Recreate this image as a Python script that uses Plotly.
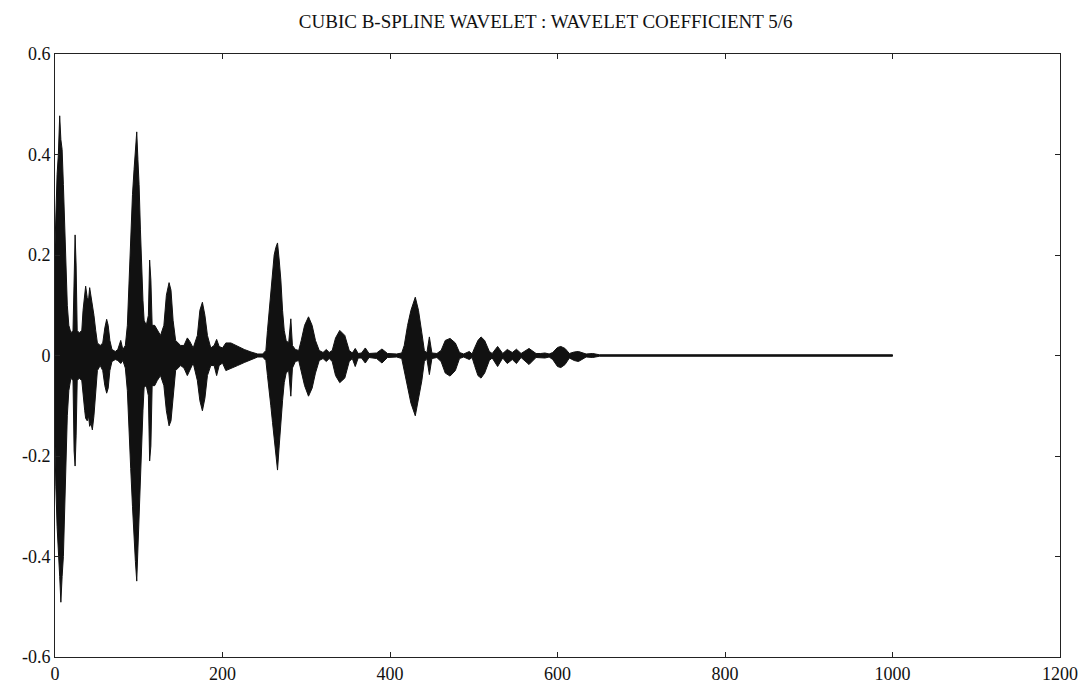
import plotly.graph_objects as go

TITLE = "CUBIC B-SPLINE WAVELET : WAVELET COEFFICIENT 5/6"

# Envelope of the wavelet coefficient signal
env_x = [0, 1, 2.5, 4, 5.6, 7, 8.5, 10, 11.5, 13, 14.7, 16.5, 19, 21.5, 22.8, 24, 25.2, 26.5, 29, 32,
         33.5, 35.5, 36.6, 38.5, 40, 41.4, 43, 44.6, 46.5, 48.6, 50.6, 54, 57, 59.5, 61.7, 63.5, 65.5, 68,
         72, 75, 78.5, 81, 84, 86.4, 88.5, 90.4, 92.5, 94.4, 96, 97.6, 99, 100.4, 102, 103.2, 105, 106.4,
         109, 111.5, 113, 114.5, 116, 119, 122, 126, 130, 133, 136.2, 138.5, 141, 144, 150, 154, 158, 161,
         165, 170, 173, 176, 179, 182, 186, 190, 193, 196, 200, 204, 210, 218, 226, 234, 242, 248,
         251.8, 253.7, 255.7, 257.7, 259.7, 261.7, 263.7, 265.7, 267.7, 269.7, 271.7, 273.7, 276, 279,
         281.6, 283.5, 287, 291, 294, 298, 302.7, 307, 311, 315.5, 320, 324, 327.4, 331, 335, 340, 346,
         351.3, 355, 358.5, 362, 366, 370.5, 375, 384, 390.4, 397, 408, 414, 417, 421, 425, 430.2, 434,
         438, 441, 444, 447, 450, 456, 461, 466, 471.7, 478, 483, 488, 494.7, 498, 501, 505, 508.7, 513,
         518.6, 522, 528.5, 534.6, 540, 546, 551, 556.5, 566, 574.4, 580, 585, 590, 594.3, 600, 604, 609,
         614.2, 620, 625, 634.2, 642, 650, 700, 800, 900, 1000]
env_upper = [0.22, 0.30, 0.36, 0.40, 0.477, 0.43, 0.41, 0.34, 0.26, 0.20, 0.10, 0.06, 0.045, 0.05, 0.20, 0.24, 0.18, 0.05, 0.045, 0.05,
             0.09, 0.125, 0.138, 0.115, 0.11, 0.135, 0.12, 0.10, 0.08, 0.05, 0.025, 0.02, 0.025, 0.055, 0.072, 0.06, 0.03, 0.012,
             0.008, 0.012, 0.03, 0.012, 0.02, 0.06, 0.16, 0.25, 0.32, 0.37, 0.42, 0.445, 0.39, 0.34, 0.25, 0.18, 0.11, 0.07,
             0.06, 0.08, 0.19, 0.15, 0.06, 0.06, 0.05, 0.04, 0.06, 0.12, 0.145, 0.13, 0.07, 0.03, 0.02, 0.02, 0.035, 0.028,
             0.015, 0.04, 0.09, 0.106, 0.08, 0.04, 0.015, 0.02, 0.032, 0.018, 0.015, 0.025, 0.025, 0.018, 0.012, 0.007, 0.003, 0.003,
             0.01, 0.05, 0.09, 0.136, 0.17, 0.20, 0.215, 0.224, 0.19, 0.15, 0.09, 0.05, 0.03, 0.025,
             0.073, 0.02, 0.012, 0.01, 0.03, 0.06, 0.077, 0.06, 0.03, 0.01, 0.006, 0.012, 0.006, 0.01, 0.035, 0.05, 0.04,
             0.01, 0.005, 0.014, 0.004, 0.005, 0.015, 0.004, 0.005, 0.013, 0.004, 0.003, 0.005, 0.02, 0.06, 0.09, 0.116, 0.09,
             0.045, 0.01, 0.005, 0.037, 0.005, 0.004, 0.01, 0.03, 0.034, 0.025, 0.006, 0.003, 0.008, 0.003, 0.015, 0.03, 0.037, 0.03,
             0.008, 0.004, 0.018, 0.004, 0.012, 0.006, 0.0125, 0.004, 0.014, 0.004, 0.004, 0.005, 0.003, 0.006, 0.016, 0.018, 0.014,
             0.004, 0.007, 0.008, 0.003, 0.004, 0.0015, 0.0015, 0.0015, 0.0015, 0.0015]
env_lower = [-0.18, -0.26, -0.34, -0.40, -0.44, -0.491, -0.44, -0.40, -0.33, -0.24, -0.12, -0.07, -0.045, -0.05, -0.19, -0.22, -0.16, -0.05, -0.045, -0.05,
             -0.08, -0.11, -0.125, -0.13, -0.12, -0.141, -0.135, -0.148, -0.12, -0.08, -0.03, -0.02, -0.03, -0.06, -0.075, -0.065, -0.03, -0.012,
             -0.008, -0.01, -0.016, -0.01, -0.025, -0.07, -0.15, -0.225, -0.30, -0.365, -0.41, -0.449, -0.40, -0.33, -0.25, -0.19, -0.11, -0.063,
             -0.06, -0.08, -0.21, -0.18, -0.06, -0.06, -0.05, -0.04, -0.06, -0.11, -0.14, -0.13, -0.08, -0.03, -0.02, -0.025, -0.04, -0.03,
             -0.015, -0.05, -0.09, -0.11, -0.085, -0.04, -0.02, -0.02, -0.04, -0.02, -0.015, -0.03, -0.025, -0.02, -0.014, -0.008, -0.003, -0.003,
             -0.01, -0.04, -0.074, -0.10, -0.133, -0.17, -0.20, -0.228, -0.18, -0.146, -0.09, -0.054, -0.035, -0.03,
             -0.081, -0.025, -0.012, -0.01, -0.03, -0.06, -0.081, -0.065, -0.035, -0.01, -0.006, -0.012, -0.006, -0.012, -0.04, -0.054, -0.045,
             -0.012, -0.006, -0.022, -0.005, -0.005, -0.015, -0.004, -0.006, -0.015, -0.004, -0.003, -0.006, -0.03, -0.065, -0.095, -0.12, -0.09,
             -0.05, -0.012, -0.006, -0.038, -0.006, -0.004, -0.012, -0.035, -0.041, -0.03, -0.006, -0.003, -0.008, -0.004, -0.02, -0.04, -0.045, -0.035,
             -0.01, -0.005, -0.022, -0.005, -0.016, -0.008, -0.016, -0.004, -0.018, -0.004, -0.004, -0.005, -0.003, -0.008, -0.022, -0.024, -0.018,
             -0.005, -0.01, -0.012, -0.003, -0.004, -0.0015, -0.0015, -0.0015, -0.0015, -0.0015]

x_ticks = [0, 200, 400, 600, 800, 1000, 1200]
x_ticktext = ["0", "200", "400", "600", "800", "1000", "1200"]
y_ticks = [0.6, 0.4, 0.2, 0, -0.2, -0.4, -0.6]
y_ticktext = ["0.6", "0.4", "0.2", "0", "-0.2", "-0.4", "-0.6"]

FONT = "Liberation Serif, Times New Roman, serif"

fig = go.Figure()
fig.add_trace(go.Scatter(
    x=env_x + env_x[::-1],
    y=env_upper + env_lower[::-1],
    fill="toself",
    fillcolor="#111111",
    line=dict(color="#111111", width=1),
    mode="lines",
    hoverinfo="skip",
    showlegend=False,
))

axis_common = dict(
    showgrid=False, zeroline=False, showline=True, linecolor="#222222", linewidth=1,
    mirror="ticks", ticks="inside", ticklen=5, tickcolor="#222222",
    tickfont=dict(family=FONT, size=18, color="#111111"),
)
fig.update_xaxes(range=[0, 1200], tickvals=x_ticks, ticktext=x_ticktext, **axis_common)
fig.update_yaxes(range=[-0.6, 0.6], tickvals=y_ticks, ticktext=y_ticktext, **axis_common)

# page body adds an 8px offset, so the figure is 8px smaller than the window
fig.update_layout(
    width=1084, height=688,
    margin=dict(l=47, r=32, t=46, b=32),
    paper_bgcolor="white", plot_bgcolor="white",
    title=dict(text=TITLE, x=0.496, xanchor="center", y=0.98, yanchor="middle",
               font=dict(family=FONT, size=19, color="#111111")),
)

fig.write_html("out.html")
